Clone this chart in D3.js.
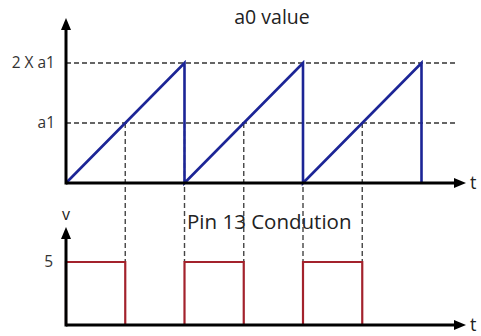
<!DOCTYPE html>
<html>
<head>
<meta charset="utf-8">
<script src="https://cdn.jsdelivr.net/npm/d3@7"></script>
<style>
  body { margin: 0; background: #fff; }
  svg { display: block; font-family: "Open Sans", sans-serif; }
</style>
</head>
<body>
<div id="chart"></div>
<script>
// sawtooth of a0 (in units of a1) over time (in periods)
const sawTime = [0, 1, 1, 2, 2, 3, 3];
const sawValue = [0, 2, 0, 2, 0, 2, 0];

// pin 13 output voltage
const pinTime = [0, 0, 0.5, 0.5, 1, 1, 1.5, 1.5, 2, 2, 2.5, 2.5];
const pinValue = [0, 5, 5, 0, 0, 5, 5, 0, 0, 5, 5, 0];

// moments where a0 crosses a1 or resets
const switchTimes = [0.5, 1, 1.5, 2, 2.5];

const topTicks = [1, 2];
const topTickLabels = ["a1", "2 X a1"];
const bottomTicks = [5];
const bottomTickLabels = ["5"];

const width = 481, height = 336;

const svg = d3.select("#chart")
    .append("svg")
    .attr("width", width)
    .attr("height", height);

// shared time scale
const x = d3.scaleLinear().domain([0, 3]).range([66, 421.5]);
const xEnd = 466;

// top plot: a0 value
const yTop = d3.scaleLinear().domain([0, 2]).range([183, 63]);
// bottom plot: voltage
const yBot = d3.scaleLinear().domain([0, 5]).range([325, 262]);

const dash = "5,3";

// horizontal guide lines
svg.append("g")
    .selectAll("line")
    .data(topTicks)
    .join("line")
    .attr("x1", x(0))
    .attr("x2", 457)
    .attr("y1", d => yTop(d))
    .attr("y2", d => yTop(d))
    .attr("stroke", "#333")
    .attr("stroke-width", 1.6)
    .attr("stroke-dasharray", dash);

// vertical guide lines down to the pulse top
svg.append("g")
    .selectAll("line")
    .data(switchTimes)
    .join("line")
    .attr("x1", d => x(d))
    .attr("x2", d => x(d))
    .attr("y1", yTop(1))
    .attr("y2", yBot(5))
    .attr("stroke", "#444")
    .attr("stroke-width", 1.4)
    .attr("stroke-dasharray", dash);

// tick labels
svg.append("g")
    .selectAll("text")
    .data(topTicks)
    .join("text")
    .attr("x", 55)
    .attr("y", d => yTop(d))
    .attr("dy", "0.35em")
    .attr("text-anchor", "end")
    .style("font-size", "15.5px")
    .style("fill", "#333")
    .text((d, i) => topTickLabels[i]);

svg.append("g")
    .selectAll("text")
    .data(bottomTicks)
    .join("text")
    .attr("x", 53)
    .attr("y", d => yBot(d))
    .attr("dy", "0.35em")
    .attr("text-anchor", "end")
    .style("font-size", "15.5px")
    .style("fill", "#333")
    .text((d, i) => bottomTickLabels[i]);

// sawtooth
const sawLine = d3.line()
    .x((d, i) => x(sawTime[i]))
    .y(d => yTop(d));

svg.append("path")
    .datum(sawValue)
    .attr("d", sawLine)
    .attr("fill", "none")
    .attr("stroke", "#1c2596")
    .attr("stroke-width", 2.6)
    .attr("stroke-linejoin", "miter");

// pin pulses
const pinLine = d3.line()
    .x((d, i) => x(pinTime[i]))
    .y(d => yBot(d));

svg.append("path")
    .datum(pinValue)
    .attr("d", pinLine)
    .attr("fill", "none")
    .attr("stroke", "#a3222c")
    .attr("stroke-width", 2.2);

// axes with arrow heads
function drawAxes(yBase, yTopTip) {
    const g = svg.append("g");
    g.append("line")
        .attr("x1", x(0)).attr("x2", xEnd - 8)
        .attr("y1", yBase).attr("y2", yBase)
        .attr("stroke", "#000").attr("stroke-width", 3);
    g.append("line")
        .attr("x1", x(0)).attr("x2", x(0))
        .attr("y1", yBase + 1.5).attr("y2", yTopTip + 8)
        .attr("stroke", "#000").attr("stroke-width", 3);
    g.append("path")
        .attr("d", `M${xEnd},${yBase} L${xEnd - 12},${yBase - 5} L${xEnd - 12},${yBase + 5} Z`)
        .attr("fill", "#000");
    g.append("path")
        .attr("d", `M${x(0)},${yTopTip} L${x(0) - 5},${yTopTip + 12} L${x(0) + 5},${yTopTip + 12} Z`)
        .attr("fill", "#000");
    g.append("text")
        .attr("x", xEnd + 4)
        .attr("y", yBase + 6)
        .style("font-size", "18px")
        .style("fill", "#222")
        .text("t");
}

drawAxes(yTop(0), 18);
drawAxes(yBot(0), 227);

// axis label for voltage
svg.append("text")
    .attr("x", x(0))
    .attr("y", 214)
    .attr("dy", "0.35em")
    .attr("text-anchor", "middle")
    .style("font-size", "16px")
    .style("fill", "#222")
    .text("v");

// titles
svg.append("text")
    .attr("x", 272)
    .attr("y", 17)
    .attr("dy", "0.35em")
    .attr("text-anchor", "middle")
    .style("font-size", "19.5px")
    .style("fill", "#222")
    .text("a0 value");

svg.append("text")
    .attr("x", 187)
    .attr("y", 222)
    .attr("dy", "0.35em")
    .style("font-size", "20.5px")
    .style("fill", "#222")
    .text("Pin 13 Condution");
</script>
</body>
</html>
